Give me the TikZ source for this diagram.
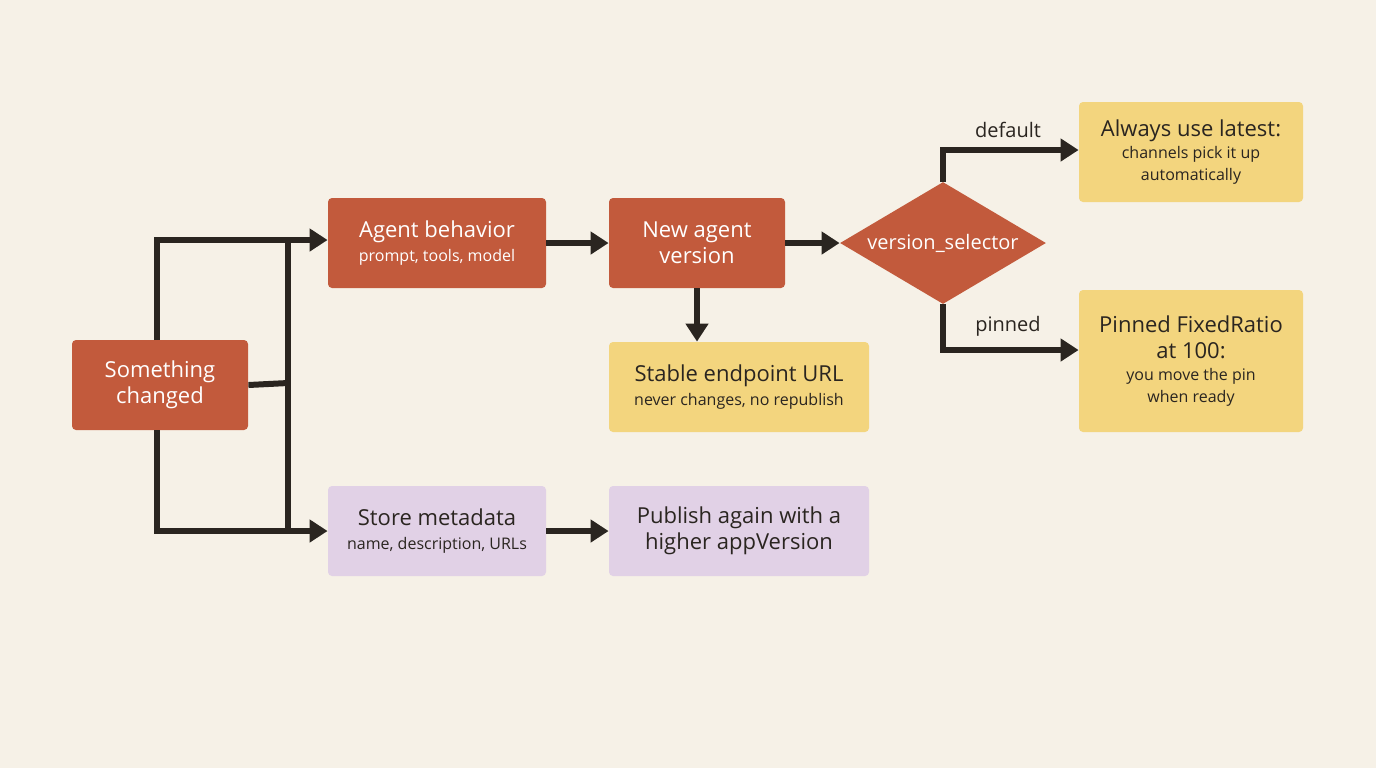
\documentclass[tikz,border=0pt]{standalone}
\usepackage{fontspec}
\setmainfont{Open Sans}
\usetikzlibrary{arrows.meta,shapes.geometric}
\definecolor{bg}{HTML}{F6F1E7}
\definecolor{rust}{HTML}{C25A3C}
\definecolor{ylw}{HTML}{F3D57E}
\definecolor{lav}{HTML}{E1D1E6}
\definecolor{ink}{HTML}{2A2520}
\newcommand\smtxt{\fontsize{8}{10}\selectfont}
\tikzset{
 box/.style={rectangle,rounded corners=2pt,inner sep=0pt,align=center,font=\fontsize{11}{13}\selectfont},
 rbox/.style={box,fill=rust,text=white},
 ybox/.style={box,fill=ylw,text=ink},
 lbox/.style={box,fill=lav,text=ink},
 conn/.style={draw=ink,line width=3pt,-{Triangle[length=9pt,width=11pt]}},
 line/.style={draw=ink,line width=3pt},
 lab/.style={text=ink,font=\fontsize{10}{12}\selectfont}
}
\begin{document}
\begin{tikzpicture}[x=0.5pt,y=-0.5pt]
\fill[bg] (0,0) rectangle (1376,768);
\useasboundingbox (0,0) rectangle (1376,768);
\node[rbox,minimum width=88pt,minimum height=45pt] (sc) at (160,385) {Something\\changed};
\node[rbox,minimum width=109pt,minimum height=45pt] (ab) at (437,243) {Agent behavior\\[-1pt]{\smtxt prompt, tools, model}};
\node[rbox,minimum width=88pt,minimum height=45pt] (nv) at (697,243) {New agent\\version};
\node[ybox,minimum width=130pt,minimum height=45pt] (se) at (739,387) {Stable endpoint URL\\[-1pt]{\smtxt never changes, no republish}};
\node[diamond,fill=rust,text=white,minimum width=103pt,minimum height=61pt,inner sep=0pt,aspect=1.7,font=\fontsize{10}{12}\selectfont] (vs) at (943,243) {version\_selector};
\node[ybox,minimum width=112pt,minimum height=50pt] (al) at (1191,152) {Always use latest:\\[-2pt]{\smtxt channels pick it up}\\[-2pt]{\smtxt automatically}};
\node[ybox,minimum width=112pt,minimum height=71pt] (pn) at (1191,361) {Pinned FixedRatio\\at 100:\\[-2pt]{\smtxt you move the pin}\\[-2pt]{\smtxt when ready}};
\node[lbox,minimum width=109pt,minimum height=45pt] (sm) at (437,531) {Store metadata\\[-1pt]{\smtxt name, description, URLs}};
\node[lbox,minimum width=130pt,minimum height=45pt] (pa) at (739,531) {Publish again with a\\higher appVersion};
% left connectors
\draw[conn] (157,340) -- (157,240) -- (ab.west|-0,240);
\draw[conn] (157,430) -- (157,531) -- (sm.west);
\draw[line] (sc.east) -- (288,383);
\draw[line] (300,240) -- (288,240) -- (288,531) -- (300,531);
\draw[conn] (ab) -- (nv);
\draw[conn] (nv) -- (vs);
\draw[conn] (nv.south) -- (nv|-se.north);
\draw[conn] (sm) -- (pa);
\draw[conn] (vs.north) -- (vs.north|-0,150) -- (al.west|-0,150);
\draw[conn] (vs.south) -- (vs.south|-0,350) -- (pn.west|-0,350);
\node[lab] at (1008,130) {default};
\node[lab] at (1008,326) {pinned};
\end{tikzpicture}
\end{document}
